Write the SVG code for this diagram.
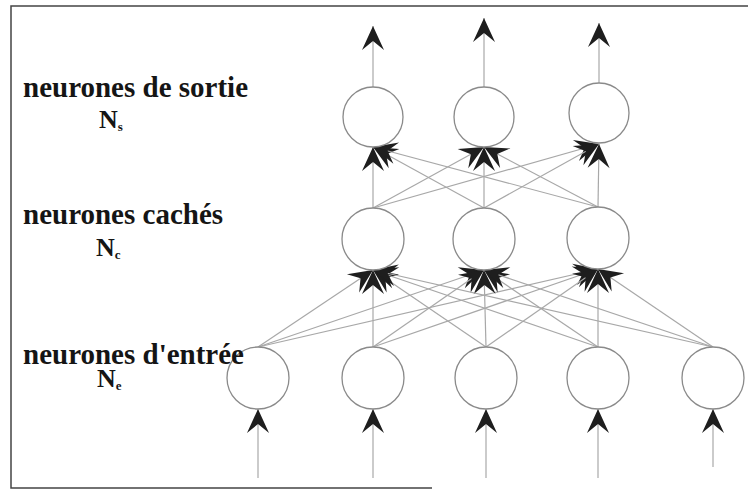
<svg xmlns="http://www.w3.org/2000/svg" width="748" height="489" viewBox="0 0 748 489">
<style>
.lbl{font-family:"Liberation Serif","Times New Roman",serif;font-weight:bold;font-size:29px;fill:#151515}
.nn{font-size:26px}
.sub{font-size:13px}
.node circle{fill:#fff;stroke:#8a8a8a;stroke-width:1.3}
.conn line{stroke:#a8a8a8;stroke-width:1.2;fill:none}
.arr{marker-end:url(#ah)}
.frame{stroke:#444;stroke-width:1.5;fill:none}
</style>
<defs>
<marker id="ah" markerUnits="userSpaceOnUse" viewBox="-25 -12 26 24" markerWidth="26" markerHeight="24" refX="0" refY="0" orient="auto">
<path d="M0,0 L-24,-11 L-15,0 L-24,11 Z" fill="#1e1e1e"/>
</marker>
</defs>
<rect width="748" height="489" fill="#fff"/>
<path class="frame" d="M748,6 L11,6 L11,488 L432,488"/>

<g id="connectors" class="conn">
<line class="arr" x1="258" y1="478" x2="258" y2="409"/>
<line class="arr" x1="373" y1="478" x2="373" y2="409"/>
<line class="arr" x1="486" y1="478" x2="486" y2="409"/>
<line class="arr" x1="598" y1="478" x2="598" y2="409"/>
<line class="arr" x1="713" y1="467" x2="713" y2="409"/>
<line class="arr" x1="258" y1="347" x2="373" y2="270"/>
<line class="arr" x1="258" y1="347" x2="484" y2="270"/>
<line class="arr" x1="258" y1="347" x2="598" y2="269"/>
<line class="arr" x1="373" y1="347" x2="373" y2="270"/>
<line class="arr" x1="373" y1="347" x2="484" y2="270"/>
<line class="arr" x1="373" y1="347" x2="598" y2="269"/>
<line class="arr" x1="486" y1="347" x2="373" y2="270"/>
<line class="arr" x1="486" y1="347" x2="484" y2="270"/>
<line class="arr" x1="486" y1="347" x2="598" y2="269"/>
<line class="arr" x1="598" y1="347" x2="373" y2="270"/>
<line class="arr" x1="598" y1="347" x2="484" y2="270"/>
<line class="arr" x1="598" y1="347" x2="598" y2="269"/>
<line class="arr" x1="713" y1="347" x2="373" y2="270"/>
<line class="arr" x1="713" y1="347" x2="484" y2="270"/>
<line class="arr" x1="713" y1="347" x2="598" y2="269"/>
<line class="arr" x1="373" y1="208" x2="373" y2="147"/>
<line class="arr" x1="373" y1="208" x2="484" y2="147"/>
<line class="arr" x1="373" y1="208" x2="599" y2="144"/>
<line class="arr" x1="484" y1="208" x2="373" y2="147"/>
<line class="arr" x1="484" y1="208" x2="484" y2="147"/>
<line class="arr" x1="484" y1="208" x2="599" y2="144"/>
<line class="arr" x1="598" y1="207" x2="373" y2="147"/>
<line class="arr" x1="598" y1="207" x2="484" y2="147"/>
<line class="arr" x1="598" y1="207" x2="599" y2="144"/>
<line class="arr" x1="373" y1="87" x2="373" y2="26"/>
<line class="arr" x1="484" y1="87" x2="484" y2="18"/>
<line class="arr" x1="599" y1="83" x2="599" y2="23"/>
</g>

<g id="out1" class="node"><circle cx="373" cy="117" r="30"/></g>
<g id="out2" class="node"><circle cx="484" cy="117" r="30"/></g>
<g id="out3" class="node"><circle cx="599" cy="113" r="30"/></g>
<g id="hid1" class="node"><circle cx="373" cy="239" r="31"/></g>
<g id="hid2" class="node"><circle cx="484" cy="239" r="31"/></g>
<g id="hid3" class="node"><circle cx="598" cy="238" r="31"/></g>
<g id="in1" class="node"><circle cx="258" cy="378" r="31"/></g>
<g id="in2" class="node"><circle cx="373" cy="378" r="31"/></g>
<g id="in3" class="node"><circle cx="486" cy="378" r="31"/></g>
<g id="in4" class="node"><circle cx="598" cy="378" r="31"/></g>
<g id="in5" class="node"><circle cx="713" cy="378" r="31"/></g>

<g id="labels">
<text class="lbl" x="23" y="97">neurones de sortie</text>
<text class="lbl nn" x="99" y="128">N<tspan class="sub" dy="3">s</tspan></text>
<text class="lbl" x="23" y="224">neurones cachés</text>
<text class="lbl nn" x="96" y="256">N<tspan class="sub" dy="3">c</tspan></text>
<text class="lbl" x="23" y="364">neurones d'entrée</text>
<text class="lbl nn" x="97" y="387">N<tspan class="sub" dy="3">e</tspan></text>
</g>
</svg>
